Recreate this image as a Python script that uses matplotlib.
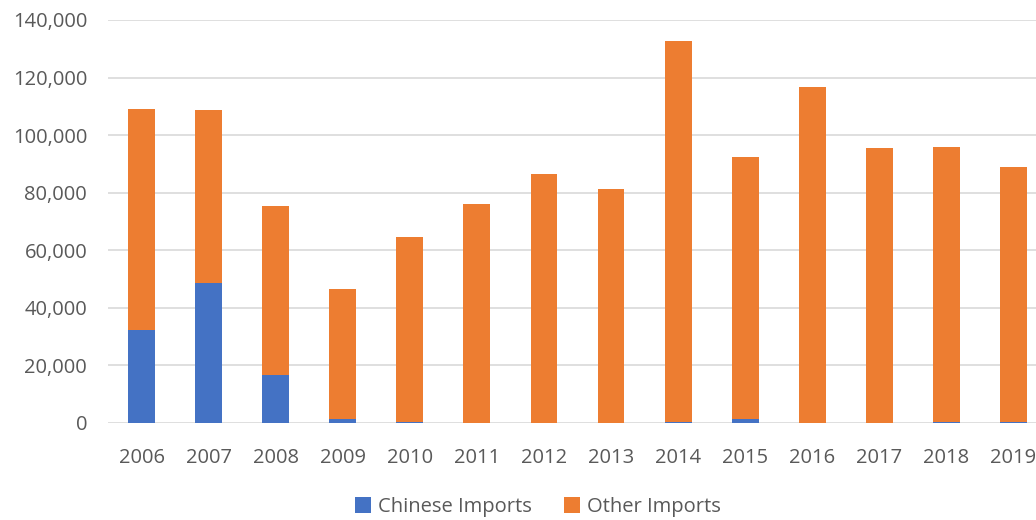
import matplotlib
matplotlib.use('Agg')
from matplotlib import pyplot as plt
from matplotlib.ticker import FuncFormatter

years = ['2006', '2007', '2008', '2009', '2010', '2011', '2012',
         '2013', '2014', '2015', '2016', '2017', '2018', '2019']
chinese = [32300, 48600, 16700, 1300, 500, 100, 100,
           100, 500, 1400, 100, 100, 500, 500]
totals = [109200, 108700, 75300, 46400, 64500, 76000, 86500,
          81200, 132800, 92400, 116600, 95400, 95800, 88800]
other = [t - c for t, c in zip(totals, chinese)]

blue = '#4472C4'
orange = '#ED7D31'
grey = '#595959'

plt.rcParams['font.family'] = ['Open Sans', 'DejaVu Sans']

fig = plt.figure(figsize=(10.36, 5.2), dpi=100)
ax = fig.add_axes([108 / 1036, 1 - 423 / 520, (1047 - 108) / 1036, 403 / 520])

x = range(len(years))
ax.bar(x, chinese, width=0.4, color=blue, label='Chinese Imports', zorder=3)
ax.bar(x, other, width=0.4, bottom=chinese, color=orange, label='Other Imports', zorder=3)

ax.set_xlim(-0.5, len(years) - 0.5)
ax.set_ylim(0, 140000)
ax.set_yticks(range(0, 140001, 20000))
ax.yaxis.set_major_formatter(FuncFormatter(lambda v, p: f'{int(v):,}'))
ax.set_xticks(list(x))
ax.set_xticklabels(years)

ax.grid(axis='y', color='#d9d9d9', linewidth=1.2, zorder=0)
for s in ax.spines.values():
    s.set_visible(False)
ax.tick_params(axis='both', length=0, labelsize=14.5, colors=grey)
ax.tick_params(axis='x', pad=18)
ax.tick_params(axis='y', pad=15)

fig.legend(loc='center', bbox_to_anchor=(538 / 1036, 1 - 507 / 520), ncol=2,
           frameon=False, fontsize=14.5, handlelength=0.8, handleheight=0.8,
           handletextpad=0.35, columnspacing=1.6, labelcolor=grey)

plt.savefig('out.png', dpi=100)
